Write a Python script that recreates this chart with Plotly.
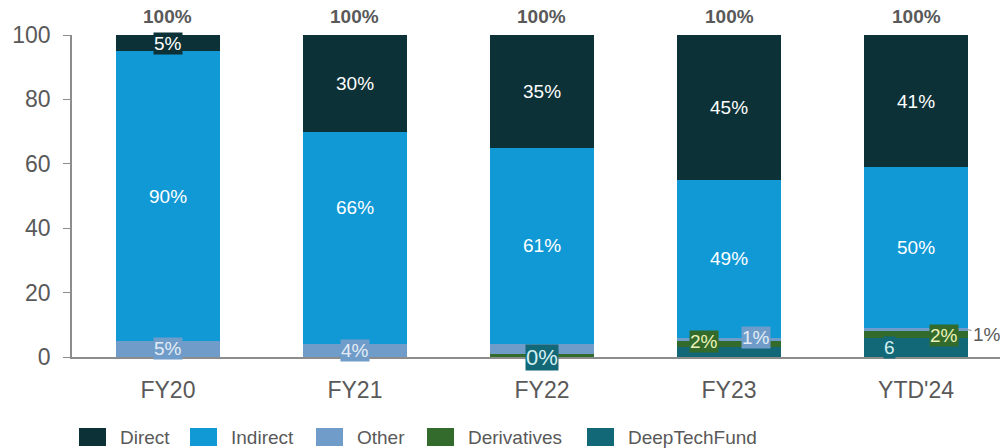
import plotly.graph_objects as go

categories = ["FY20", "FY21", "FY22", "FY23", "YTD'24"]

# stacked from bottom to top
deeptech = [0, 0, 0, 3, 6]
derivatives = [0, 0, 1, 2, 2]
other = [5, 4, 3, 1, 1]
indirect = [90, 66, 61, 49, 50]
direct = [5, 30, 35, 45, 41]
totals = ["100%", "100%", "100%", "100%", "100%"]

deeptech_lbl = ["", "", "0%", "", "6"]
derivatives_lbl = ["", "", "", "2%", "2%"]
other_lbl = ["5%", "4%", "", "1%", ""]
other_out_lbl = ["", "", "", "", "1%"]
indirect_lbl = ["90%", "66%", "61%", "49%", "50%"]
direct_lbl = ["5%", "30%", "35%", "45%", "41%"]

legend_names = ["Direct", "Indirect", "Other", "Derivatives", "DeepTechFund"]

FONT = "Liberation Sans, Arial, sans-serif"
GRAY = "#595959"
BAR_W = 0.556
LBL = 19

colors = {
    "DeepTechFund": "#136877",
    "Derivatives": "#336b2d",
    "Other": "#6f9cc9",
    "Indirect": "#1199d6",
    "Direct": "#0c3136",
}
series = [
    ("DeepTechFund", deeptech, deeptech_lbl, "#d4f0f2"),
    ("Derivatives", derivatives, derivatives_lbl, "#ecf3b8"),
    ("Other", other, other_lbl, "#e3ecf6"),
    ("Indirect", indirect, indirect_lbl, "#ffffff"),
    ("Direct", direct, direct_lbl, "#ffffff"),
]

# per-label pixel nudges (style only): (xshift, yshift, font size)
nudges = {
    ("DeepTechFund", 2): (0, 0, 22),
    ("DeepTechFund", 4): (-27, 0, LBL),
    ("Derivatives", 3): (-25, 3, LBL),
    ("Derivatives", 4): (28, -1, LBL),
    ("Other", 3): (27, 2, LBL),
    ("Indirect", 1): (0, 30, LBL),
}

fig = go.Figure()
for name, vals, _, _ in series:
    fig.add_trace(go.Bar(
        x=categories, y=vals, name=name,
        marker=dict(color=colors[name], line=dict(width=0)),
        width=BAR_W, showlegend=False,
    ))

annotations = []
base = [0] * len(categories)
for name, vals, labels, fcol in series:
    for i, cat in enumerate(categories):
        lbl = labels[i]
        if lbl:
            dx, dy, fs = nudges.get((name, i), (0, 0, LBL))
            annotations.append(dict(
                x=cat, y=base[i] + vals[i] / 2, xref="x", yref="y", text=lbl,
                showarrow=False, xshift=dx, yshift=dy, bgcolor=colors[name], borderpad=0,
                font=dict(family=FONT, size=fs, color=fcol),
            ))
        if name == "Other" and other_out_lbl[i]:
            annotations.append(dict(
                x=i + BAR_W / 2, y=base[i] + vals[i] / 2, xref="x", yref="y",
                text=other_out_lbl[i], showarrow=True, arrowhead=0, arrowwidth=1,
                arrowcolor="#8c8c8c", ax=19, ay=5,
                font=dict(family=FONT, size=LBL, color=GRAY),
            ))
    base = [b + v for b, v in zip(base, vals)]

for i, cat in enumerate(categories):
    annotations.append(dict(
        x=cat, y=base[i], xref="x", yref="y", text="<b>" + totals[i] + "</b>",
        showarrow=False, yanchor="bottom", yshift=6,
        font=dict(family=FONT, size=LBL, color=GRAY),
    ))

# custom legend (pixel layout converted to paper coords)
PL, PT, PW, PH = 72, 35, 928, 322
legend_left_px = [79, 190, 316, 427, 587]
legend_cy_px = 437
shapes = []
for name, lx in zip(legend_names, legend_left_px):
    shapes.append(dict(
        type="rect", xref="paper", yref="paper",
        x0=(lx - PL) / PW, x1=(lx + 27 - PL) / PW,
        y0=(PT + PH - (legend_cy_px + 9)) / PH, y1=(PT + PH - (legend_cy_px - 9)) / PH,
        fillcolor=colors[name], line=dict(width=0),
    ))
    annotations.append(dict(
        x=(lx + 39 - PL) / PW, y=(PT + PH - legend_cy_px) / PH, xref="paper", yref="paper",
        text=name, showarrow=False, xanchor="left", yanchor="middle",
        font=dict(family=FONT, size=19, color=GRAY),
    ))

fig.update_layout(
    barmode="stack",
    width=1000, height=448,
    margin=dict(l=PL, r=1000 - PL - PW, t=PT, b=448 - PT - PH, autoexpand=False),
    plot_bgcolor="white", paper_bgcolor="white",
    font=dict(family=FONT, color=GRAY),
    annotations=annotations,
    shapes=shapes,
    showlegend=False,
)
fig.update_xaxes(
    range=[-0.513, 4.449], showline=True, linecolor="#8c8c8c", linewidth=1.5,
    ticks="outside", ticklen=12, tickcolor="rgba(0,0,0,0)",
    tickfont=dict(family=FONT, size=23, color=GRAY), showgrid=False, automargin=False,
)
fig.update_yaxes(
    range=[0, 100], tickvals=[0, 20, 40, 60, 80, 100], showline=True,
    linecolor="#8c8c8c", linewidth=1.5, ticks="outside", ticklen=7, tickcolor="#8c8c8c",
    ticklabelstandoff=8,
    tickfont=dict(family=FONT, size=23, color=GRAY), showgrid=False, zeroline=False,
    automargin=False,
)

fig.write_html("out.html", config={"displayModeBar": False},
               post_script="document.body.style.margin='0';")
